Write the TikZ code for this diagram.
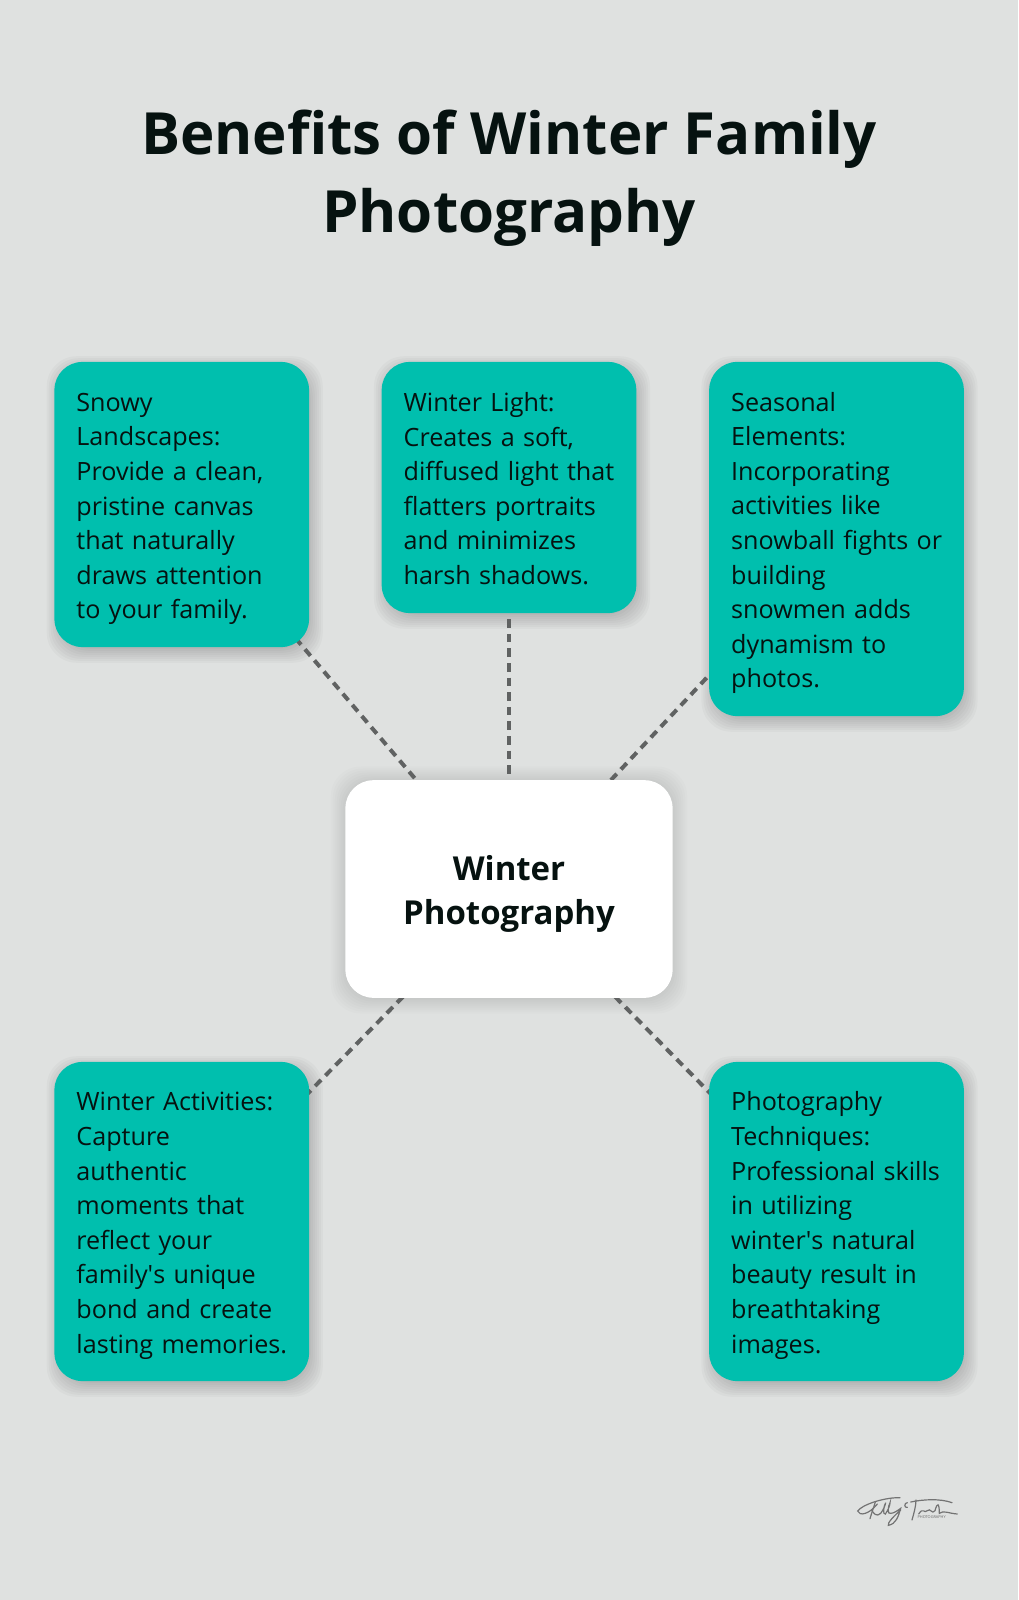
\documentclass[tikz,border=0pt]{standalone}
\usepackage{fontspec}
\setmainfont{Open Sans}
\usetikzlibrary{backgrounds}
\definecolor{pagebg}{RGB}{223,225,224}
\definecolor{tealbox}{RGB}{0,191,174}
\definecolor{inkdark}{RGB}{6,18,16}
\definecolor{dashgray}{RGB}{96,98,98}
\tikzset{
  infobox/.style={fill=tealbox, text=inkdark, rounded corners=0.28cm, align=left, text width=2.14cm,
    minimum width=2.545cm, inner sep=0pt, font=\fontsize{7.15pt}{9.84pt}\selectfont,
    execute at begin node={\hyphenpenalty=10000\leftskip=0.0175cm\rule{0pt}{8pt}},
    execute at end node={\rule[-2pt]{0pt}{2pt}}},
  hubbox/.style={fill=white, text=inkdark, rounded corners=0.28cm, align=center, text width=3cm,
    minimum width=3.27cm, minimum height=2.175cm, inner sep=0pt, font=\fontsize{9.38pt}{12.5pt}\selectfont\bfseries,
    execute at begin node={\rule{0pt}{9.9pt}}},
  linkline/.style={dashgray, line width=0.04cm, dash pattern=on 0.085cm off 0.061cm, dash phase=0.144cm},
  softshade/.style={black, opacity=0.024, rounded corners=0.3cm},
  sigline/.style={black!55, line width=0.012cm, line cap=round}
}
\begin{document}
\begin{tikzpicture}[x=0.01cm,y=-0.01cm]
\useasboundingbox (0,0) rectangle (1018,1600);
% title
\node (title) at (509,178) [align=center, text=inkdark, font=\fontsize{16.55pt}{22.05pt}\selectfont\bfseries]
  {Benefits of Winter Family\\Photography};
% boxes
\node (snowy) at (181.75,504.5) [infobox, minimum height=2.85cm]
  {Snowy\\Landscapes:\\Provide a clean,\\pristine canvas\\that naturally\\draws attention\\to your family.};
\node (light) at (509,487.5) [infobox, minimum height=2.51cm]
  {Winter Light:\\Creates a soft,\\diffused light that\\flatters portraits\\and minimizes\\harsh shadows.};
\node (seasonal) at (836.5,539) [infobox, minimum height=3.54cm]
  {Seasonal\\Elements:\\Incorporating\\activities like\\snowball fights or\\building\\snowmen adds\\dynamism to\\photos.};
\node (activities) at (181.75,1221.5) [infobox, minimum height=3.19cm]
  {Winter Activities:\\Capture\\authentic\\moments that\\reflect your\\family\textquotesingle s unique\\bond and create\\lasting memories.};
\node (techniques) at (836.5,1221.5) [infobox, minimum height=3.19cm]
  {Photography\\Techniques:\\Professional skills\\in utilizing\\winter\textquotesingle s natural\\beauty result in\\breathtaking\\images.};
\node (hub) at (509,889) [hubbox]
  {Winter\\Photography};
% page colour, shadows and links go behind the boxes
\begin{scope}[on background layer]
\fill[pagebg] (0,0) rectangle (1018,1600);
\foreach \n in {snowy,light,seasonal,activities,techniques}
  \foreach \e in {-6,-4,...,10}
    \fill[softshade] ([shift={(3-\e,5+\e)}]\n.south west) rectangle ([shift={(3+\e,5-\e)}]\n.north east);
\foreach \e in {-4,-2,...,14}
  \fill[softshade, opacity=0.011] ([shift={(0-\e,1+\e)}]hub.south west) rectangle ([shift={(0+\e,1-\e)}]hub.north east);
\foreach \n in {snowy,light,seasonal,activities,techniques}
  \draw[linkline] (\n.center) -- (hub.center);
\end{scope}
% signature
\begin{scope}[shift={(820,1460)},x=0.01cm/3,y=-0.01cm/3]
\draw[sigline] (240,113) .. controls (190,112) and (125,135) .. (113,153) .. controls (118,168) and (145,165) .. (172,132);
\draw[sigline] (166,126) .. controls (160,145) and (153,165) .. (150,176);
\draw[sigline] (155,150) .. controls (160,160) and (170,172) .. (182,160) .. controls (190,150) and (196,135) .. (197,128) .. controls (190,140) and (188,165) .. (196,162) .. controls (205,150) and (210,135) .. (210,128) .. controls (203,140) and (202,165) .. (212,160) .. controls (222,160) and (235,150) .. (242,145) .. controls (235,170) and (228,192) .. (205,196) .. controls (200,190) and (225,165) .. (242,150);
\draw[sigline] (262,128) .. controls (252,128) and (252,145) .. (262,142);
\draw[sigline] (272,126) .. controls (310,118) and (360,115) .. (396,128);
\draw[sigline] (288,120) .. controls (288,140) and (280,165) .. (276,180);
\draw[sigline] (296,162) .. controls (310,140) and (312,162) .. (322,152) .. controls (332,142) and (335,165) .. (345,152) .. controls (352,125) and (358,130) .. (358,160) .. controls (370,150) and (385,160) .. (412,162);
\node (sigtext) at (335,172) [black!60, font=\fontsize{1.1pt}{1.3pt}\selectfont] {PHOTOGRAPHY};
\end{scope}
\end{tikzpicture}
\end{document}
